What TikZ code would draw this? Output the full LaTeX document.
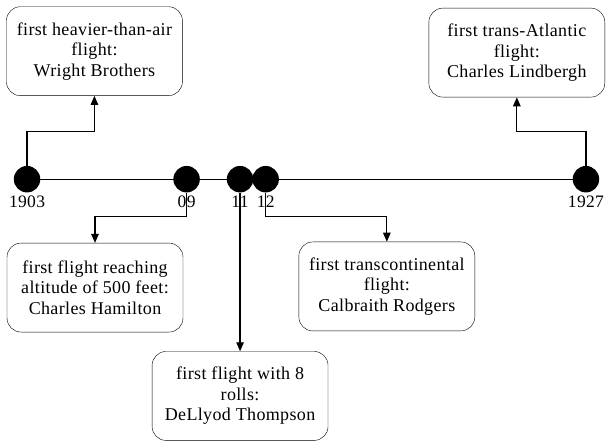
\documentclass[tikz,border=0pt]{standalone}
\usepackage{fontspec}
\setmainfont[LetterSpace=2]{Liberation Serif}
\usetikzlibrary{positioning,arrows.meta}

\begin{document}
\begin{tikzpicture}[
  box/.style={draw, rounded corners=14pt, align=center, minimum width=176pt, minimum height=89pt, inner sep=3pt, font=\fontsize{18}{20.5}\selectfont},
  dot/.style={circle, fill=black, minimum size=26.5pt, inner sep=0pt},
  yr/.style={font=\fontsize{17.5}{20.5}\selectfont, inner sep=1pt},
  ln/.style={line width=1.2pt},
  arr/.style={ln, -{Triangle[length=9pt,width=7.5pt]}}
]
\useasboundingbox (0,0) rectangle (21.34,15.54);
\node[dot] (y03) at (0.95,9.24) {};
\node[dot] (y09) at (6.56,9.24) {};
\node[dot] (y11) at (8.44,9.24) {};
\node[dot] (y12) at (9.34,9.24) {};
\node[dot] (y27) at (20.60,9.24) {};
\draw[ln] (y03) -- (y27);
\node[yr, below=2pt of y03] (l03) {1903};
\node[yr, below=2pt of y09] (l09) {09};
\node[yr, below=2pt of y11] (l11) {11};
\node[yr, below=2pt of y12] (l12) {12};
\node[yr, below=2pt of y27] (l27) {1927};
\node[box] (b03) at (3.32,13.74) {first heavier-than-air\\flight:\\Wright Brothers};
\node[box] (b27) at (18.17,13.69) {first trans-Atlantic\\flight:\\Charles Lindbergh};
\node[box] (b09) at (3.34,5.43) {first flight reaching\\altitude of 500 feet:\\Charles Hamilton};
\node[box] (b12) at (13.60,5.47) {first transcontinental\\flight:\\Calbraith Rodgers};
\node[box] (b11) at (8.44,1.62) {first flight with 8\\rolls:\\DeLlyod Thompson};
\foreach \n in {03,27} \draw[arr] (y\n.north) -- ++(0,1.2) -| (b\n.south);
\foreach \n in {09,12} \draw[arr] (y\n.south) -- ++(0,-0.84) -| (b\n.north);
\draw[arr] (y11.south) -- (b11.north);
\end{tikzpicture}
\end{document}
